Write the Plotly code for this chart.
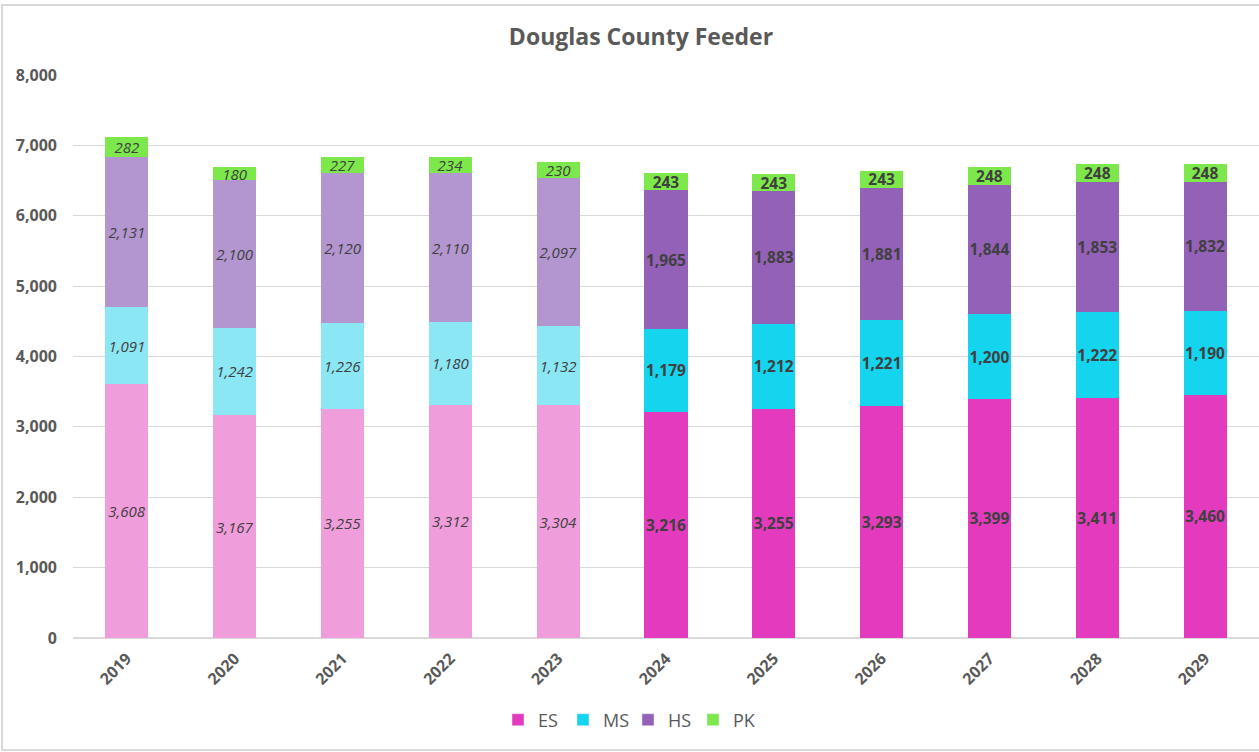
import plotly.graph_objects as go

years = ["2019", "2020", "2021", "2022", "2023", "2024", "2025", "2026", "2027", "2028", "2029"]
es = [3608, 3167, 3255, 3312, 3304, 3216, 3255, 3293, 3399, 3411, 3460]
ms = [1091, 1242, 1226, 1180, 1132, 1179, 1212, 1221, 1200, 1222, 1190]
hs = [2131, 2100, 2120, 2110, 2097, 1965, 1883, 1881, 1844, 1853, 1832]
pk = [282, 180, 227, 234, 230, 243, 243, 243, 248, 248, 248]
n_hist = 5  # 2019-2023 actual (light, italic); rest projected (bold)

series = [
    ("ES", es, "#E43BBE", "#F09DDC"),
    ("MS", ms, "#14D4EE", "#8BE7F4"),
    ("HS", hs, "#9461B8", "#B396D0"),
    ("PK", pk, "#7DE84B", "#7DE84B"),
]

FONT = "Open Sans"
L, R, T, B = 73, 0, 75, 114
W, H = 1259, 752
PW, PH = W - L - R, H - T - B

fig = go.Figure()
for name, vals, dark, light in series:
    colors = [light if i < n_hist else dark for i in range(len(vals))]
    texts = [(f"<i>{v:,}</i>" if i < n_hist else f"<b>{v:,}</b>") for i, v in enumerate(vals)]
    sizes = [15 if i < n_hist else 15.5 for i in range(len(vals))]
    fig.add_trace(go.Bar(
        name=name, x=years, y=vals, showlegend=False,
        marker=dict(color=colors, line=dict(width=0)),
        text=texts, textposition="inside", insidetextanchor="middle",
        textangle=0, constraintext="none",
        textfont=dict(color="#404040", size=sizes, family=FONT),
        width=0.4, hoverinfo="x+y+name",
    ))
# legend entries in the projected (saturated) colours
for name, vals, dark, light in series:
    fig.add_trace(go.Bar(name=name, x=[years[0]], y=[None], marker=dict(color=dark),
                         showlegend=True, hoverinfo="skip"))

fig.update_layout(
    barmode="stack",
    width=W, height=H,
    paper_bgcolor="white", plot_bgcolor="white",
    margin=dict(l=L, r=R, t=T, b=B),
    title=dict(text="<b>Douglas County Feeder</b>", x=(641 - L) / PW, xref="paper", xanchor="center",
               y=1 - 37 / H, yanchor="middle",
               font=dict(family=FONT, size=23, color="#595959")),
    font=dict(family=FONT, color="#595959"),
    legend=dict(orientation="h", x=(628 - L) / PW, xanchor="center", y=-(720 - 638) / PH, yanchor="middle",
                font=dict(size=18, color="#595959"), traceorder="normal", itemwidth=30,
                entrywidth=20, entrywidthmode="pixels"),
    xaxis=dict(tickangle=-45, tickfont=dict(size=16, color="#595959", weight="bold"),
               showline=True, linecolor="#D9D9D9", linewidth=1, ticks="", ticklabelstandoff=4),
    yaxis=dict(range=[0, 8000], dtick=1000, tickformat=",", showgrid=True, gridcolor="#D9D9D9",
               tickfont=dict(size=16, color="#595959", weight="bold"), zeroline=True,
               zerolinecolor="#D9D9D9", ticks="", ticklabelstandoff=15),
    shapes=[dict(type="rect", xref="paper", yref="paper",
                 x0=(2 - L) / PW, x1=(1265 - L) / PW, y0=-(750 - 638) / PH, y1=1 + (T - 5) / PH,
                 line=dict(color="#D9D9D9", width=2), fillcolor="rgba(0,0,0,0)", layer="below")],
)
fig.write_html("out.html", config={"displayModeBar": False},
               post_script="document.body.style.margin='0px';")
